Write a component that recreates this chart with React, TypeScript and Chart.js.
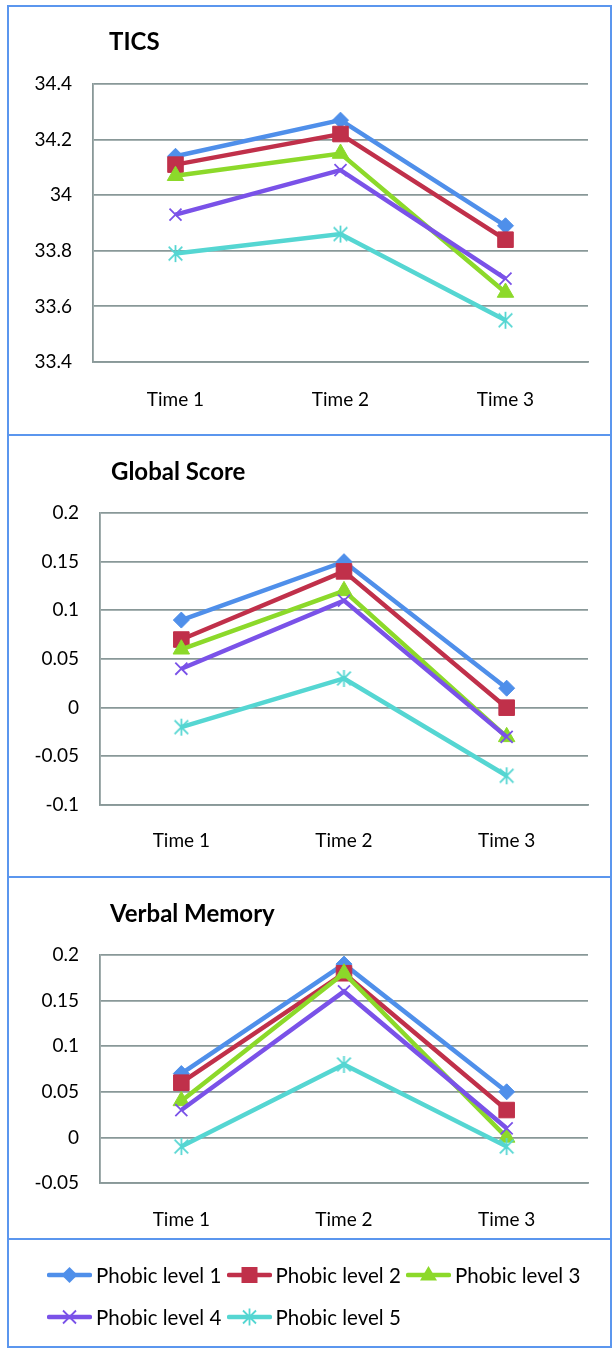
import React, { useEffect, useRef } from "react";
import { Chart, registerables } from "chart.js";

Chart.register(...registerables);

// ---------- data ----------
const categories = ["Time 1", "Time 2", "Time 3"];
const seriesNames = ["Phobic level 1", "Phobic level 2", "Phobic level 3", "Phobic level 4", "Phobic level 5"];

const ticsL1 = [34.14, 34.27, 33.89];
const ticsL2 = [34.11, 34.22, 33.84];
const ticsL3 = [34.07, 34.15, 33.65];
const ticsL4 = [33.93, 34.09, 33.7];
const ticsL5 = [33.79, 33.86, 33.55];
const ticsTicks = [33.4, 33.6, 33.8, 34, 34.2, 34.4];

const globalL1 = [0.09, 0.15, 0.02];
const globalL2 = [0.07, 0.14, 0.0];
const globalL3 = [0.06, 0.12, -0.03];
const globalL4 = [0.04, 0.11, -0.03];
const globalL5 = [-0.02, 0.03, -0.07];
const globalTicks = [-0.1, -0.05, 0, 0.05, 0.1, 0.15, 0.2];

const verbalL1 = [0.07, 0.19, 0.05];
const verbalL2 = [0.06, 0.18, 0.03];
const verbalL3 = [0.04, 0.18, 0.0];
const verbalL4 = [0.03, 0.16, 0.01];
const verbalL5 = [-0.01, 0.08, -0.01];
const verbalTicks = [-0.05, 0, 0.05, 0.1, 0.15, 0.2];

// ---------- styles ----------
const COLORS = ["#4f8fea", "#c0304a", "#8cd92a", "#7a52e8", "#55d6d2"];
const GRID = "#899898";
const BORDER = "#5b96ee";
const FONT = "Lato";

function makeStar(color: string, size: number) {
  const c = document.createElement("canvas");
  c.width = size;
  c.height = size;
  const ctx = c.getContext("2d")!;
  ctx.strokeStyle = color;
  ctx.lineWidth = 1.8;
  const m = size / 2;
  const r = size / 2 - 1;
  const d = r * 0.8;
  ctx.beginPath();
  ctx.moveTo(m - d, m - d);
  ctx.lineTo(m + d, m + d);
  ctx.moveTo(m + d, m - d);
  ctx.lineTo(m - d, m + d);
  ctx.moveTo(m, m - r);
  ctx.lineTo(m, m + r);
  ctx.stroke();
  return c;
}

const titlePlugin = {
  id: "panelTitle",
  afterDraw(chart: any, _args: any, opts: any) {
    if (!opts || !opts.text) return;
    const ctx = chart.ctx;
    ctx.save();
    ctx.font = `bold 24px ${FONT}`;
    ctx.fillStyle = "#000";
    ctx.textBaseline = "alphabetic";
    ctx.textAlign = "left";
    ctx.fillText(opts.text, opts.x, opts.y);
    ctx.restore();
  },
};

type PanelProps = {
  title: string;
  series: number[][];
  ticks: number[];
  left: number;
  top: number;
  width: number;
  height: number;
  area: { left: number; right: number; top: number; bottom: number };
  titlePos: { x: number; y: number };
  xPad: number;
};

function Panel(p: PanelProps) {
  const ref = useRef<HTMLCanvasElement | null>(null);
  useEffect(() => {
    const canvas = ref.current!;
    const star = makeStar(COLORS[4], 19);
    const styles: any[] = [
      { pointStyle: "rectRot", pointRadius: 8, pointBorderWidth: 1 },
      { pointStyle: "rect", pointRadius: 11, pointBorderWidth: 1 },
      { pointStyle: "triangle", pointRadius: 9.5, pointBorderWidth: 1 },
      { pointStyle: "crossRot", pointRadius: 8.5, pointBorderWidth: 1.8 },
      { pointStyle: star, pointRadius: 9, pointBorderWidth: 1.8 },
    ];
    const datasets = p.series.map((data, i) => ({
      label: seriesNames[i],
      data,
      borderColor: COLORS[i],
      backgroundColor: COLORS[i],
      pointBackgroundColor: COLORS[i],
      pointBorderColor: COLORS[i],
      borderWidth: 4.5,
      order: 4 - i,
      tension: 0,
      ...styles[i],
    }));
    const a = p.area;
    const chart = new Chart(canvas, {
      type: "line",
      data: { labels: categories, datasets },
      plugins: [titlePlugin],
      options: {
        responsive: false,
        maintainAspectRatio: false,
        animation: false,
        devicePixelRatio: 1,
        layout: { padding: { left: 0, top: a.top, right: p.width - a.right, bottom: 0 } },
        plugins: {
          legend: { display: false },
          tooltip: { enabled: false },
          panelTitle: { text: p.title, x: p.titlePos.x, y: p.titlePos.y },
        } as any,
        scales: {
          x: {
            type: "category",
            offset: true,
            grid: { display: false, drawTicks: false },
            border: { display: true, color: GRID, width: 1.8 },
            ticks: { color: "#000", font: { family: FONT, size: 19 }, padding: p.xPad, maxRotation: 0 },
            afterFit: (s: any) => {
              s.height = p.height - a.bottom;
            },
          },
          y: {
            min: p.ticks[0],
            max: p.ticks[p.ticks.length - 1],
            afterBuildTicks: (s: any) => {
              s.ticks = p.ticks.map((v) => ({ value: v }));
            },
            grid: { color: GRID, lineWidth: 1.8, drawTicks: false },
            border: { display: true, color: GRID, width: 1.8 },
            ticks: {
              color: "#000",
              font: { family: FONT, size: 19 },
              padding: 21,
              callback: (v: any) => String(Number(Number(v).toFixed(2))),
            },
            afterFit: (s: any) => {
              s.width = a.left;
            },
          },
        },
      } as any,
    });
    return () => chart.destroy();
  }, []);
  return (
    <canvas
      ref={ref}
      width={p.width}
      height={p.height}
      style={{ position: "absolute", left: p.left, top: p.top, width: p.width, height: p.height }}
    />
  );
}

function Swatch({ i }: { i: number }) {
  const c = COLORS[i];
  const cx = 22.5;
  const cy = 11;
  let marker: any = null;
  if (i === 0) marker = <polygon points={`${cx},${cy - 8} ${cx + 8},${cy} ${cx},${cy + 8} ${cx - 8},${cy}`} fill={c} />;
  if (i === 1) marker = <rect x={cx - 8} y={cy - 8} width={16} height={16} fill={c} />;
  if (i === 2) marker = <polygon points={`${cx},${cy - 9} ${cx + 8.5},${cy + 5.5} ${cx - 8.5},${cy + 5.5}`} fill={c} />;
  if (i === 3)
    marker = (
      <path d={`M${cx - 6.5},${cy - 6.5}L${cx + 6.5},${cy + 6.5}M${cx + 6.5},${cy - 6.5}L${cx - 6.5},${cy + 6.5}`} stroke={c} strokeWidth={1.8} />
    );
  if (i === 4)
    marker = (
      <path
        d={`M${cx - 6.5},${cy - 6.5}L${cx + 6.5},${cy + 6.5}M${cx + 6.5},${cy - 6.5}L${cx - 6.5},${cy + 6.5}M${cx},${cy - 8.5}L${cx},${cy + 8.5}`}
        stroke={c}
        strokeWidth={1.8}
      />
    );
  return (
    <svg width={45} height={22} style={{ display: "block", flex: "none" }}>
      <line x1={2} y1={cy} x2={43} y2={cy} stroke={c} strokeWidth={4.5} strokeLinecap="round" />
      {marker}
    </svg>
  );
}

export default function App() {
  const W = 600;
  return (
    <div style={{ position: "absolute", left: 0, top: 0, width: 613, height: 1353, background: "#fff", fontFamily: FONT }}>
      <Panel
        title="TICS"
        series={[ticsL1, ticsL2, ticsL3, ticsL4, ticsL5]}
        ticks={ticsTicks}
        left={9}
        top={7}
        width={W}
        height={427}
        area={{ left: 84, right: 579, top: 77, bottom: 355 }}
        titlePos={{ x: 100, y: 43 }}
        xPad={26}
      />
      <Panel
        title="Global Score"
        series={[globalL1, globalL2, globalL3, globalL4, globalL5]}
        ticks={globalTicks}
        left={9}
        top={436}
        width={W}
        height={440}
        area={{ left: 91, right: 579, top: 77, bottom: 369 }}
        titlePos={{ x: 102, y: 44 }}
        xPad={24}
      />
      <Panel
        title="Verbal Memory"
        series={[verbalL1, verbalL2, verbalL3, verbalL4, verbalL5]}
        ticks={verbalTicks}
        left={9}
        top={878}
        width={W}
        height={360}
        area={{ left: 91, right: 579, top: 77, bottom: 305 }}
        titlePos={{ x: 101, y: 44 }}
        xPad={25}
      />
      {/* borders */}
      <div
        style={{
          position: "absolute",
          left: 7,
          top: 5,
          width: 605,
          height: 1343,
          border: `2px solid ${BORDER}`,
          boxSizing: "border-box",
          pointerEvents: "none",
        }}
      />
      {[434, 876, 1238].map((y) => (
        <div key={y} style={{ position: "absolute", left: 7, top: y, width: 605, height: 2, background: BORDER }} />
      ))}
      {/* legend */}
      <div
        style={{
          position: "absolute",
          left: 47,
          top: 1254,
          width: 540,
          display: "flex",
          flexWrap: "wrap",
        }}
      >
        {seriesNames.map((name, i) => (
          <div key={name} style={{ width: 179.5, height: 42, display: "flex", alignItems: "center" }}>
            <Swatch i={i} />
            <span style={{ marginLeft: 4, fontSize: 20.5, color: "#000", whiteSpace: "nowrap", lineHeight: "21px" }}>{name}</span>
          </div>
        ))}
      </div>
    </div>
  );
}
